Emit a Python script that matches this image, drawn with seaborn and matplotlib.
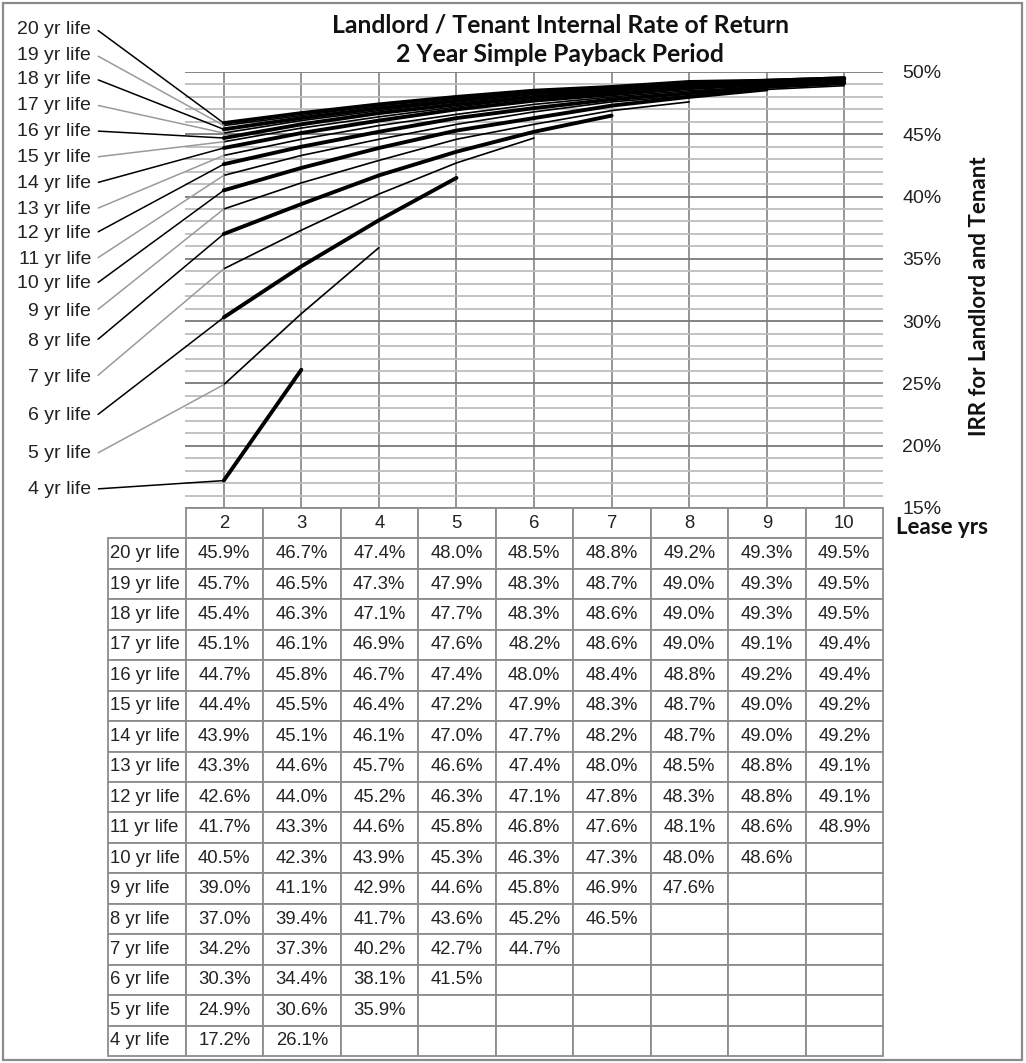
import numpy as np
import pandas as pd
import seaborn as sns
import matplotlib.pyplot as plt
from matplotlib.patches import Rectangle
from matplotlib.table import Table

sns.set_theme(style="white")
plt.rcParams["font.family"] = ["Liberation Sans", "DejaVu Sans"]

# Lease term (years) along the x axis / table columns
lease_years = [2, 3, 4, 5, 6, 7, 8, 9, 10]

# IRR (%) by equipment life, one list per life; shorter lives stop at life - 1 years
irr_20yr = [45.9, 46.7, 47.4, 48.0, 48.5, 48.8, 49.2, 49.3, 49.5]
irr_19yr = [45.7, 46.5, 47.3, 47.9, 48.3, 48.7, 49.0, 49.3, 49.5]
irr_18yr = [45.4, 46.3, 47.1, 47.7, 48.3, 48.6, 49.0, 49.3, 49.5]
irr_17yr = [45.1, 46.1, 46.9, 47.6, 48.2, 48.6, 49.0, 49.1, 49.4]
irr_16yr = [44.7, 45.8, 46.7, 47.4, 48.0, 48.4, 48.8, 49.2, 49.4]
irr_15yr = [44.4, 45.5, 46.4, 47.2, 47.9, 48.3, 48.7, 49.0, 49.2]
irr_14yr = [43.9, 45.1, 46.1, 47.0, 47.7, 48.2, 48.7, 49.0, 49.2]
irr_13yr = [43.3, 44.6, 45.7, 46.6, 47.4, 48.0, 48.5, 48.8, 49.1]
irr_12yr = [42.6, 44.0, 45.2, 46.3, 47.1, 47.8, 48.3, 48.8, 49.1]
irr_11yr = [41.7, 43.3, 44.6, 45.8, 46.8, 47.6, 48.1, 48.6, 48.9]
irr_10yr = [40.5, 42.3, 43.9, 45.3, 46.3, 47.3, 48.0, 48.6]
irr_9yr = [39.0, 41.1, 42.9, 44.6, 45.8, 46.9, 47.6]
irr_8yr = [37.0, 39.4, 41.7, 43.6, 45.2, 46.5]
irr_7yr = [34.2, 37.3, 40.2, 42.7, 44.7]
irr_6yr = [30.3, 34.4, 38.1, 41.5]
irr_5yr = [24.9, 30.6, 35.9]
irr_4yr = [17.2, 26.1]

lives = [20, 19, 18, 17, 16, 15, 14, 13, 12, 11, 10, 9, 8, 7, 6, 5, 4]
irr_rows = [irr_20yr, irr_19yr, irr_18yr, irr_17yr, irr_16yr, irr_15yr,
            irr_14yr, irr_13yr, irr_12yr, irr_11yr, irr_10yr, irr_9yr,
            irr_8yr, irr_7yr, irr_6yr, irr_5yr, irr_4yr]
life_labels = [f"{n} yr life" for n in lives]

# Vertical position (pixels from top) of each label on the left side
label_y_px = [29, 55, 79, 105, 131, 157, 183, 209, 233, 259, 284, 311, 341,
              377, 416, 454, 489]

y_ticks = [15, 20, 25, 30, 35, 40, 45, 50]

df = pd.DataFrame(
    [(life, lease_years[i], v) for life, vals in zip(lives, irr_rows)
     for i, v in enumerate(vals)],
    columns=["life", "lease", "irr"],
)

W, H = 1026, 1063
fig = plt.figure(figsize=(W / 100, H / 100), dpi=100)


def rect_px(x0, y0, x1, y1):
    return [x0 / W, 1 - y1 / H, (x1 - x0) / W, (y1 - y0) / H]


ax = fig.add_axes(rect_px(185, 72, 883, 508))

for life in lives:
    sub = df[df["life"] == life]
    sns.lineplot(data=sub, x="lease", y="irr", ax=ax, color="black",
                 lw=2.8 if life % 2 == 0 else 1.2, legend=False, zorder=3)

ax.set_xlim(1.5, 10.5)
ax.set_ylim(15, 50)
ax.set_xticks(lease_years)
ax.set_yticks(y_ticks)
ax.set_yticks(np.arange(15, 51, 1), minor=True)
ax.set_yticklabels([f"{t}%" for t in y_ticks])
ax.yaxis.tick_right()
ax.tick_params(axis="x", labelbottom=False, length=0)
ax.tick_params(axis="y", which="both", length=0, pad=14, labelsize=14,
               labelcolor="#222222")
ax.grid(axis="y", which="minor", color="#bdbdbd", lw=1.3, zorder=0)
ax.grid(axis="y", which="major", color="#7a7a7a", lw=1.3, zorder=1)
ax.grid(axis="x", which="major", color="#8c8c8c", lw=1.3, zorder=1)
ax.set_xlabel("")
ax.set_ylabel("")
for s in ax.spines.values():
    s.set_visible(False)

# Left-side series labels with leader lines to each series' first point
for life, vals, ypx in zip(lives, irr_rows, label_y_px):
    ax.annotate(
        f"{life} yr life", xy=(lease_years[0], vals[0]), xycoords="data",
        xytext=(91, H - ypx), textcoords="figure pixels",
        ha="right", va="center", fontsize=14, color="#222222",
        arrowprops=dict(arrowstyle="-", lw=1.1,
                        color="black" if life % 2 == 0 else "#9a9a9a",
                        shrinkA=3, shrinkB=0, relpos=(1, 0.5),
                        connectionstyle="arc,angleA=0,angleB=0,armA=5,armB=0,rad=0"),
        annotation_clip=False,
    )

# Title and axis captions
title_font = ["Lato", "DejaVu Sans"]
fig.text(560 / W, 1 - 25 / H, "Landlord / Tenant Internal Rate of Return",
         ha="center", va="center", fontsize=17.8, fontweight="bold",
         family=title_font, color="#111111")
fig.text(560 / W, 1 - 55 / H, "2 Year Simple Payback Period",
         ha="center", va="center", fontsize=17.8, fontweight="bold",
         family=title_font, color="#111111")
fig.text(979 / W, 1 - 296 / H, "IRR for Landlord and Tenant", rotation=90,
         ha="center", va="center", fontsize=16, fontweight="bold",
         family=title_font, color="#111111")
fig.text(942 / W, 1 - 527 / H, "Lease yrs", ha="center", va="center",
         fontsize=16, fontweight="bold", family=title_font,
         color="#111111")

# Data table under the chart
ax_t = fig.add_axes(rect_px(108, 508, 883, 1056))
ax_t.axis("off")
ncols = len(lease_years) + 1
nrows = len(lives) + 1
tbl = Table(ax_t, bbox=[0, 0, 1, 1])
cw, ch = 1 / ncols, 1 / nrows
header = [""] + [str(x) for x in lease_years]
for c, txt in enumerate(header):
    cell = tbl.add_cell(0, c, width=cw, height=ch, text=txt, loc="center")
    if c == 0:
        cell.visible_edges = ""
for r, (lab, vals) in enumerate(zip(life_labels, irr_rows), start=1):
    cell = tbl.add_cell(r, 0, width=cw, height=ch, text=lab, loc="left")
    cell.PAD = 0.03
    for c in range(1, ncols):
        txt = f"{vals[c - 1]:.1f}%" if c - 1 < len(vals) else ""
        tbl.add_cell(r, c, width=cw, height=ch, text=txt, loc="center")
tbl.auto_set_font_size(False)
tbl.set_fontsize(13.3)
for cell in tbl.get_celld().values():
    cell.set_edgecolor("#8c8c8c")
    cell.set_linewidth(1.3)
    cell.get_text().set_color("#222222")
ax_t.add_table(tbl)

# Outer frame
fig.patches.append(Rectangle((3 / W, 1 - 1060 / H), 1019 / W, 1057 / H,
                             transform=fig.transFigure, fill=False,
                             ec="#8a8a8a", lw=1.6))

fig.savefig("out.png", dpi=100)
